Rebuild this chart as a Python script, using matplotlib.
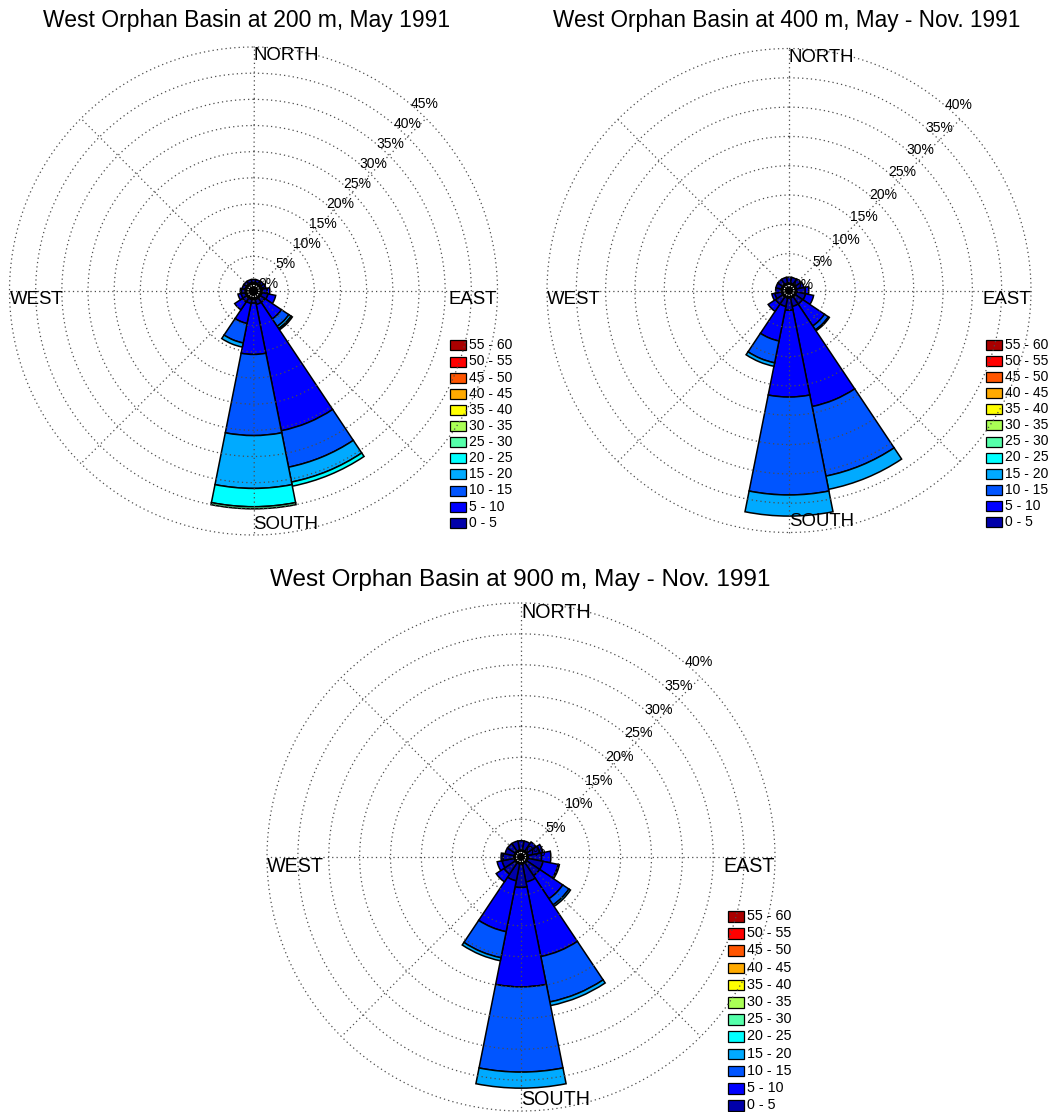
import numpy as np
import matplotlib
matplotlib.use("Agg")
import matplotlib.pyplot as plt
from matplotlib.patches import Rectangle

plt.rcParams['font.family'] = ['Liberation Sans', 'DejaVu Sans']

# 16 compass sectors, clockwise from north
directions = ['N', 'NNE', 'NE', 'ENE', 'E', 'ESE', 'SE', 'SSE',
              'S', 'SSW', 'SW', 'WSW', 'W', 'WNW', 'NW', 'NNW']
speed_edges = [0, 5, 10, 15, 20, 25, 30, 35, 40, 45, 50, 55, 60]
speed_labels = [f'{lo} - {hi}' for lo, hi in zip(speed_edges[:-1], speed_edges[1:])]

# frequency (%) per direction, split by speed class (0-5, 5-10, ...)
pct_200m = [
    [0.6], [0.6], [0.7], [0.8],
    [1.0, 0.5],
    [1.2, 1.5],
    [1.0, 3.8, 1.7, 0.5, 0.3],
    [1.0, 24.6, 7.1, 2.9, 0.8],
    [0.7, 9.8, 15.5, 10.1, 3.5, 0.4],
    [0.8, 3.9, 3.8, 0.8],
    [0.9, 1.8],
    [0.8, 0.6],
    [0.7, 0.2],
    [0.6], [0.6], [0.6],
]
pct_400m = [
    [1.0], [1.0], [1.1], [1.3],
    [1.5, 0.6],
    [1.6, 1.4],
    [1.5, 4.5, 0.8, 0.2],
    [1.5, 17.4, 12.1, 2.3],
    [2.1, 14.8, 16.7, 3.6],
    [1.5, 6.0, 3.8, 0.6],
    [1.5, 1.5],
    [1.2, 0.5],
    [1.0], [1.0], [1.0], [1.0],
]
pct_900m = [
    [1.5], [1.5], [1.8],
    [2.0, 0.5],
    [2.2, 1.5],
    [2.5, 2.5, 0.2],
    [2.5, 4.5, 1.2, 0.3],
    [3.0, 12.3, 7.5, 0.6],
    [3.8, 16.1, 13.8, 2.6],
    [2.8, 8.4, 4.3, 0.5],
    [2.2, 1.5],
    [2.0, 0.8],
    [1.8, 0.3],
    [1.5], [1.5], [1.5],
]

titles = ['West Orphan Basin at 200 m, May 1991',
          'West Orphan Basin at 400 m, May - Nov. 1991',
          'West Orphan Basin at 900 m, May - Nov. 1991']
max_rings = [45, 40, 40]

# MATLAB-style jet(12)
class_colors = [
    (0, 0, 0.667), (0, 0, 1), (0, 0.333, 1), (0, 0.667, 1),
    (0, 1, 1), (0.333, 1, 0.667), (0.667, 1, 0.333), (1, 1, 0),
    (1, 0.667, 0), (1, 0.333, 0), (1, 0, 0), (0.667, 0, 0),
]

W, H = 1051, 1112
fig = plt.figure(figsize=(W / 100, H / 100), dpi=100)


def px_box(left, top, w, h):
    return [left / W, 1 - (top + h) / H, w / W, h / H]


def rose(cx, cy, R, r0_px, data, rmax, title, title_xy, title_fs, lab_fs,
         dir_fs, leg_box, leg_row):
    ax = fig.add_axes(px_box(cx - R, cy - R, 2 * R, 2 * R), projection='polar')
    ax.set_theta_zero_location('N')
    ax.set_theta_direction(-1)
    scale = (R - r0_px) / rmax
    r0 = r0_px / scale
    ax.set_ylim(-r0, rmax)
    ax.axis('off')
    ax.patch.set_visible(False)
    ax.set_zorder(2)

    width = 2 * np.pi / len(directions)
    theta = np.deg2rad(np.arange(len(directions)) * 22.5)
    for i, row in enumerate(data):
        bottom = 0.0
        for k, v in enumerate(row):
            ax.bar(theta[i], v, width=width, bottom=bottom, color=class_colors[k],
                   edgecolor='black', linewidth=1.1, zorder=2)
            bottom += v

    grid_kw = dict(color='0.3', linestyle=(0, (1, 2.5)), linewidth=0.9,
                   zorder=3, clip_on=False)
    circ = np.linspace(0, 2 * np.pi, 721)
    for r in range(0, rmax + 1, 5):
        ax.plot(circ, np.full_like(circ, r), **grid_kw)
    for a in range(0, 360, 45):
        ax.plot([np.deg2rad(a)] * 2, [-r0, rmax], **grid_kw)

    # calm-centre disc
    ax.fill(circ, np.zeros_like(circ), color='black', zorder=4, clip_on=False)
    ax.plot(circ, np.full_like(circ, -0.35 * r0), color='white',
            linestyle=(0, (1, 1.2)), linewidth=0.8, zorder=5, clip_on=False)

    for r in range(0, rmax + 1, 5):
        ax.text(np.deg2rad(40), r, f'{r}%', ha='left', va='center',
                fontsize=lab_fs, zorder=6)

    ax.text(0.5, 1.0, 'NORTH', transform=ax.transAxes, ha='left', va='top',
            fontsize=dir_fs)
    ax.text(0.5, 6 / (2 * R), 'SOUTH', transform=ax.transAxes, ha='left',
            va='baseline', fontsize=dir_fs)
    ax.text(0.0, 0.5, 'WEST', transform=ax.transAxes, ha='left', va='top',
            fontsize=dir_fs)
    ax.text(1.0, 0.5, 'EAST', transform=ax.transAxes, ha='right', va='top',
            fontsize=dir_fs)

    fig.text(title_xy[0] / W, 1 - title_xy[1] / H, title, ha='center',
             va='baseline', fontsize=title_fs)

    # colour key
    lx, ly = leg_box
    n = len(speed_labels)
    lax = fig.add_axes(px_box(lx, ly, 75, n * leg_row))
    lax.set_zorder(1)
    lax.set_xlim(0, 75)
    lax.set_ylim(n * leg_row, 0)
    lax.axis('off')
    for j in range(n):
        k = n - 1 - j
        y0 = j * leg_row
        lax.add_patch(Rectangle((0.5, y0 + 0.2 * leg_row), 16.5, 0.62 * leg_row,
                                facecolor=class_colors[k], edgecolor='black',
                                linewidth=0.9))
        lax.text(20, y0 + 0.5 * leg_row, speed_labels[k], ha='left',
                 va='center', fontsize=lab_fs)
    return ax


rose(253.5, 291, 244, 8.5, pct_200m, max_rings[0], titles[0], (246.5, 27),
     16.5, 10, 13.4, (449, 337.2), 16.13)
rose(789, 290.5, 242, 7.5, pct_400m, max_rings[1], titles[1], (787, 27),
     16.3, 10, 13.4, (985, 336.5), 16.13)
rose(521, 857, 254, 7.0, pct_900m, max_rings[2], titles[2], (520.5, 586),
     17.5, 10.3, 14.2, (727, 907.5), 17.2)

fig.savefig('out.png', dpi=100)
